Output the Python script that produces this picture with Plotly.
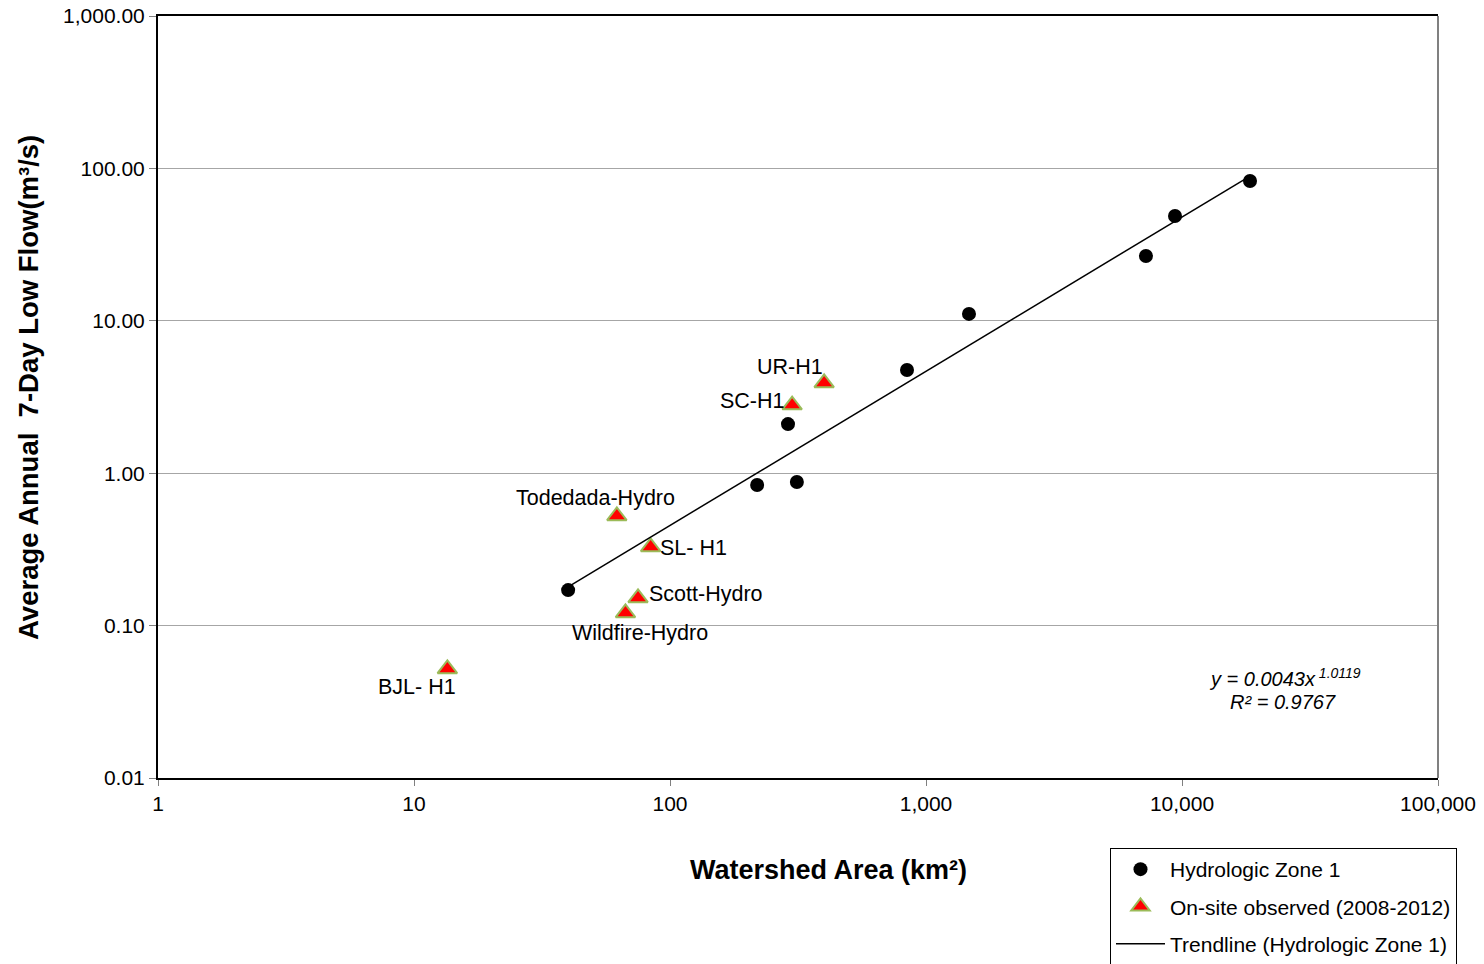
import numpy as np
import plotly.graph_objects as go

# Hydrologic Zone 1 gauges: watershed area (km²) and average annual 7-day low flow (m³/s)
zone1_area = [40, 219, 289, 313, 843, 1472, 7230, 9390, 18440]
zone1_flow = [0.171, 0.837, 2.10, 0.875, 4.75, 11.1, 26.6, 48.7, 82.7]

# On-site observed stations (2008-2012)
site_names = ["UR-H1", "SC-H1", "Todedada-Hydro", "SL- H1", "Scott-Hydro", "Wildfire-Hydro", "BJL- H1"]
site_area = [400, 300, 62, 84, 75, 67, 13.5]
site_flow = [3.91, 2.80, 0.524, 0.328, 0.152, 0.121, 0.052]

# Power-law trendline fitted to Zone 1: y = a * x^b
trend_a = 0.0043
trend_b = 1.0119
trend_r2 = 0.9767

FONT = "Liberation Sans, Arial, sans-serif"

# label offsets in pixels (dx right, dy down) for each station name
label_offsets = [(-34, -16), (-40, -4), (-21, -18), (43, 1), (68, -4), (15, 20), (-30, 18)]

trend_x = np.geomspace(min(zone1_area), max(zone1_area), 50)
trend_y = trend_a * trend_x ** trend_b

W, H = 1484, 964
L, R, T, B = 158, 46, 16, 186
pw, ph = W - L - R, H - T - B


def px_to_paper(px, py):
    return (px - L) / pw, (H - B - py) / ph


fig = go.Figure()

fig.add_trace(go.Scatter(
    x=zone1_area, y=zone1_flow, mode="markers", name="Hydrologic Zone 1",
    legendgroup="g1",
    marker=dict(symbol="circle", size=14, color="black", line=dict(width=0)),
))
fig.add_trace(go.Scatter(
    x=site_area, y=site_flow, mode="markers", name="On-site observed (2008-2012)",
    legendgroup="g2",
    marker=dict(symbol="triangle-up", size=17, color="#FF0000",
                line=dict(width=2, color="#9BBB59")),
))
fig.add_trace(go.Scatter(
    x=trend_x, y=trend_y, mode="lines", name="Trendline (Hydrologic Zone 1)",
    legendgroup="g3",
    line=dict(color="black", width=1.5),
))

annotations = []
for name, xa, ya, (dx, dy) in zip(site_names, site_area, site_flow, label_offsets):
    annotations.append(dict(
        x=np.log10(xa), y=np.log10(ya), xref="x", yref="y", text=name,
        showarrow=False, xshift=dx, yshift=-dy,
        xanchor="center", yanchor="middle",
        font=dict(family=FONT, size=21.5, color="black"),
    ))

# fitted equation and R²
ex, ey = px_to_paper(1285, 677)
annotations.append(dict(
    x=ex, y=ey, xref="paper", yref="paper", xanchor="center", yanchor="middle",
    text=f"<i>y = {trend_a}x<sup> {trend_b}</sup></i>", showarrow=False,
    font=dict(family=FONT, size=20, color="black"),
))
ex, ey = px_to_paper(1283, 702)
annotations.append(dict(
    x=ex, y=ey, xref="paper", yref="paper", xanchor="center", yanchor="middle",
    text=f"<i>R² = {trend_r2}</i>", showarrow=False,
    font=dict(family=FONT, size=20, color="black"),
))

# axis titles
tx, ty = px_to_paper(828, 870)
annotations.append(dict(
    x=tx, y=ty, xref="paper", yref="paper", showarrow=False,
    xanchor="center", yanchor="middle",
    text="<b>Watershed Area (km²)</b>",
    font=dict(family=FONT, size=27, color="black"),
))
tx, ty = px_to_paper(28, 388)
annotations.append(dict(
    x=tx, y=ty, xref="paper", yref="paper", showarrow=False, textangle=-90,
    xanchor="center", yanchor="middle",
    text="<b>Average Annual  7-Day Low Flow(m³/s)</b>",
    font=dict(family=FONT, size=27.5, color="black"),
))

lx, ly = px_to_paper(1110, 848)

fig.update_layout(
    width=W, height=H,
    margin=dict(l=L, r=R, t=T, b=B, autoexpand=False),
    paper_bgcolor="white", plot_bgcolor="white",
    font=dict(family=FONT, size=21, color="black"),
    showlegend=True,
    legend=dict(
        x=lx, y=ly, xanchor="left", yanchor="top",
        bgcolor="white", bordercolor="black", borderwidth=1,
        font=dict(family=FONT, size=21, color="black"),
        tracegroupgap=7, itemwidth=49,
    ),
    annotations=annotations,
    shapes=[dict(type="line", xref="paper", yref="paper", x0=1, x1=1, y0=0, y1=1,
                 line=dict(color="#808080", width=2))],
)

fig.update_xaxes(
    type="log", range=[0, 5], dtick=1, tickformat=",d",
    showgrid=False, zeroline=False,
    showline=True, linecolor="black", linewidth=2, mirror=True,
    ticks="outside", ticklen=6, tickcolor="#808080", tickwidth=1,
    tickfont=dict(family=FONT, size=21, color="black"),
)
fig.update_yaxes(
    type="log", range=[-2, 3], dtick=1, tickformat=",.2f",
    showgrid=True, gridcolor="#A6A6A6", gridwidth=1, zeroline=False,
    showline=True, linecolor="black", linewidth=2,
    ticks="outside", ticklen=7, tickcolor="#808080", tickwidth=1,
    tickfont=dict(family=FONT, size=21, color="black"),
)

fig.write_html("out.html")
